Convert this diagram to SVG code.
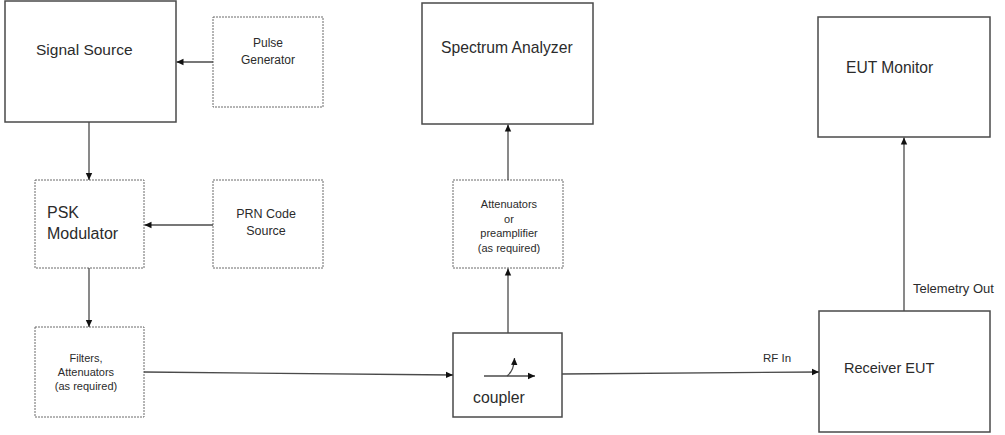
<svg xmlns="http://www.w3.org/2000/svg" width="1005" height="435" viewBox="0 0 1005 435">
<style>
  .solid{fill:#fff;stroke:#4a4a4a;stroke-width:1.5}
  .dash{fill:#fff;stroke:#6a6a6a;stroke-width:1;stroke-dasharray:2 1}
  .t{font-family:"Liberation Sans",Arial,sans-serif;fill:#2b2b2b}
  .c{text-anchor:middle}
  .ln{stroke:#4a4a4a;stroke-width:1.3;fill:none}
</style>
<defs>
  <marker id="ah" markerUnits="userSpaceOnUse" markerWidth="8" markerHeight="8" refX="7" refY="4" orient="auto">
    <path d="M0,0.8 L7,4 L0,7.2 Z" fill="#111"/>
  </marker>
</defs>
<rect width="1005" height="435" fill="#fff"/>

<g id="signal-source">
  <rect class="solid" x="5" y="1" width="171" height="121"/>
  <text class="t" x="36" y="55" font-size="15.5">Signal Source</text>
</g>
<g id="pulse-generator">
  <rect class="dash" x="213" y="17" width="110" height="90"/>
  <text class="t c" x="268" y="47" font-size="12">Pulse</text>
  <text class="t c" x="268" y="64" font-size="12">Generator</text>
</g>
<g id="psk-modulator">
  <rect class="dash" x="35" y="180" width="109" height="88"/>
  <text class="t" x="47" y="218" font-size="16">PSK</text>
  <text class="t" x="47" y="239" font-size="16">Modulator</text>
</g>
<g id="prn-code-source">
  <rect class="dash" x="213" y="180" width="110" height="88"/>
  <text class="t c" x="266" y="218" font-size="12.5">PRN Code</text>
  <text class="t c" x="266" y="235" font-size="12.5">Source</text>
</g>
<g id="filters">
  <rect class="dash" x="35" y="327" width="109" height="90"/>
  <text class="t c" x="86" y="362" font-size="11">Filters,</text>
  <text class="t c" x="86" y="376" font-size="11">Attenuators</text>
  <text class="t c" x="86" y="390" font-size="11">(as required)</text>
</g>
<g id="spectrum-analyzer">
  <rect class="solid" x="422" y="3" width="171" height="121"/>
  <text class="t" x="441" y="53" font-size="15.7">Spectrum Analyzer</text>
</g>
<g id="attenuators">
  <rect class="dash" x="453" y="180" width="110" height="88"/>
  <text class="t c" x="509" y="208" font-size="11">Attenuators</text>
  <text class="t c" x="509" y="223" font-size="11">or</text>
  <text class="t c" x="509" y="237" font-size="11">preamplifier</text>
  <text class="t c" x="509" y="252" font-size="11">(as required)</text>
</g>
<g id="coupler">
  <rect class="solid" x="453" y="333" width="109" height="84"/>
  <line class="ln" x1="484" y1="376" x2="535" y2="376" marker-end="url(#ah)"/>
  <path class="ln" d="M507,376 Q514,371 514.5,358" marker-end="url(#ah)"/>
  <text class="t" x="473" y="403" font-size="15.8">coupler</text>
</g>
<g id="eut-monitor">
  <rect class="solid" x="818" y="17" width="172" height="120"/>
  <text class="t" x="846" y="73" font-size="15.6">EUT Monitor</text>
</g>
<g id="receiver-eut">
  <rect class="solid" x="819" y="311" width="171" height="121"/>
  <text class="t" x="844" y="373" font-size="14.5">Receiver EUT</text>
</g>

<g id="connectors">
  <line class="ln" x1="213" y1="62" x2="176.5" y2="62" marker-end="url(#ah)"/>
  <line class="ln" x1="89" y1="122" x2="89" y2="180" marker-end="url(#ah)"/>
  <line class="ln" x1="213" y1="225" x2="144.5" y2="225" marker-end="url(#ah)"/>
  <line class="ln" x1="89" y1="268" x2="89" y2="327" marker-end="url(#ah)"/>
  <line class="ln" x1="144" y1="372" x2="453" y2="375" marker-end="url(#ah)"/>
  <line class="ln" x1="508" y1="333" x2="508" y2="268.5" marker-end="url(#ah)"/>
  <line class="ln" x1="508" y1="180" x2="508" y2="124.5" marker-end="url(#ah)"/>
  <line class="ln" x1="562" y1="374" x2="819" y2="372" marker-end="url(#ah)"/>
  <line class="ln" x1="904" y1="311" x2="904" y2="137.5" marker-end="url(#ah)"/>
  <text class="t" x="763" y="362" font-size="11.5">RF In</text>
  <text class="t" x="913" y="293" font-size="13">Telemetry Out</text>
</g>
</svg>
